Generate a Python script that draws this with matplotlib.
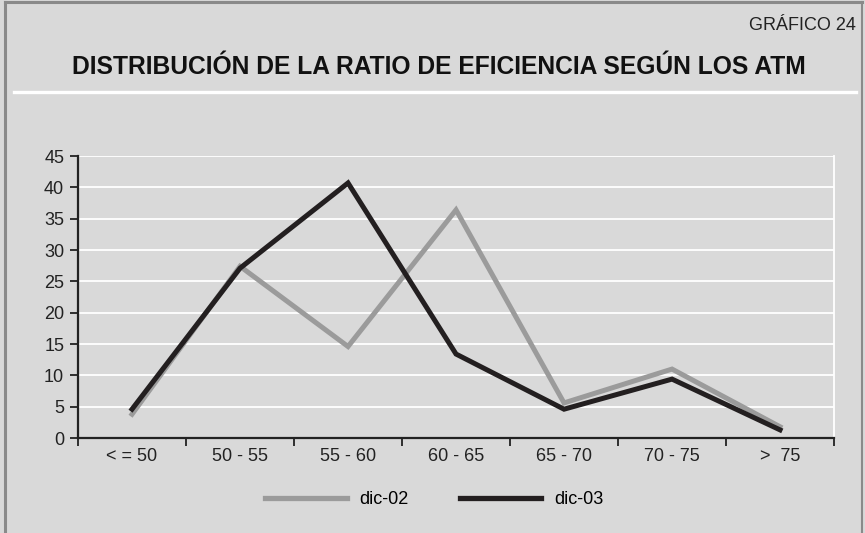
import matplotlib
matplotlib.use("Agg")
import matplotlib.pyplot as plt
from matplotlib.lines import Line2D
import numpy as np

categories = ["< = 50", "50 - 55", "55 - 60", "60 - 65", "65 - 70", "70 - 75", ">  75"]
dic_02 = [3.8, 27.4, 14.6, 36.4, 5.6, 11.0, 1.8]
dic_03 = [4.6, 27.1, 40.7, 13.4, 4.6, 9.4, 1.3]
series_names = ["dic-02", "dic-03"]
y_ticks = [0, 5, 10, 15, 20, 25, 30, 35, 40, 45]

plt.rcParams["font.family"] = ["Liberation Sans", "DejaVu Sans"]

BG = "#d9d9d9"
TXT = "#222222"
fig = plt.figure(figsize=(8.65, 5.33), dpi=100, facecolor=BG)

# outer frame (left, top, right)
frame_col = "#8a8a8a"
fig.add_artist(Line2D([0.006, 0.006], [0, 0.997], transform=fig.transFigure, color=frame_col, lw=2.2))
fig.add_artist(Line2D([0.006, 0.997], [0.997, 0.997], transform=fig.transFigure, color=frame_col, lw=2.2))
fig.add_artist(Line2D([0.997, 0.997], [0, 0.997], transform=fig.transFigure, color=frame_col, lw=1.5))

# heading
fig.text(0.989, 0.953, "GRÁFICO 24", ha="right", va="center", fontsize=13, color=TXT)
fig.text(0.5075, 0.875, "DISTRIBUCIÓN DE LA RATIO DE EFICIENCIA SEGÚN LOS ATM",
         ha="center", va="center", fontsize=17.7, fontweight="bold", color="#111111")
fig.add_artist(Line2D([0.016, 0.990], [0.827, 0.827], transform=fig.transFigure, color="white", lw=2.4))

ax = fig.add_axes([0.0902, 0.1782, 0.8740, 0.5291])
ax.set_facecolor(BG)

x = np.arange(len(categories)) + 0.5
ax.plot(x, dic_02, color="#9b9b9b", lw=3.6, solid_joinstyle="miter", label=series_names[0], zorder=3)
ax.plot(x, dic_03, color="#231f20", lw=3.6, solid_joinstyle="miter", label=series_names[1], zorder=4)

ax.set_xlim(0, len(categories))
ax.set_ylim(0, 45)
ax.set_yticks(y_ticks)
ax.set_yticklabels([str(v) for v in y_ticks], fontsize=13, color=TXT)
ax.yaxis.grid(True, color="white", lw=1.3)
ax.set_axisbelow(True)

ax.set_xticks(np.arange(len(categories) + 1))
ax.set_xticklabels([])
ax.set_xticks(x, minor=True)
ax.set_xticklabels(categories, minor=True, fontsize=13, color=TXT)
ax.tick_params(axis="x", which="major", direction="out", length=6, width=1.3, color=TXT)
ax.tick_params(axis="x", which="minor", length=0, pad=7)
ax.tick_params(axis="y", direction="out", length=6, width=1.3, color=TXT, pad=4)

for side in ("left", "bottom"):
    ax.spines[side].set_color(TXT)
    ax.spines[side].set_linewidth(1.6)
ax.spines["top"].set_visible(False)
ax.spines["right"].set_color("white")
ax.spines["right"].set_linewidth(1.3)

handles = [Line2D([], [], color="#9b9b9b", lw=3.8), Line2D([], [], color="#231f20", lw=3.8)]
fig.legend(handles, series_names, loc="center", bbox_to_anchor=(0.502, 0.063), ncol=2,
           frameon=False, fontsize=13, handlelength=4.5, columnspacing=2.8, handletextpad=0.72)

fig.savefig("out.png", dpi=100, facecolor=BG)
